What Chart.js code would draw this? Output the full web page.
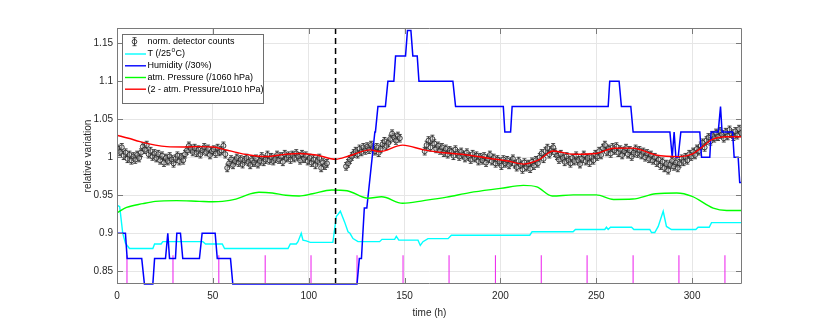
<!DOCTYPE html>
<html>
<head>
<meta charset="utf-8">
<script src="https://cdn.jsdelivr.net/npm/chart.js@4.4.0/dist/chart.umd.min.js"></script>
<style>
  html, body { margin: 0; padding: 0; background: #fff; }
  #chart { display: block; }
</style>
</head>
<body>
<canvas id="chart" width="830" height="325"></canvas>
<script>
// axis range
const yMin = 0.8333;
const yMax = 1.17;
const xMax = 326;

// normalised detector counts, hourly, three runs
const detStep = 1;
const detErr = 0.005;
const det1Start = 0.5;
const det1Values = [
  1.011, 1.007, 1.013, 1.002, 1.006, 0.998, 1.003, 0.996, 1.001, 0.997,
  1.003, 0.999, 1.006, 1.014, 1.010, 1.016, 1.004, 1.008, 1.001, 1.005,
  0.999, 1.004, 0.996, 1.002, 0.993, 0.999, 0.995, 1.001, 0.997, 0.992,
  0.998, 1.002, 0.995, 1.000, 0.996, 1.004, 1.009, 1.015, 1.011, 1.007,
  1.012, 1.006, 1.010, 1.004, 1.009, 1.013, 1.007, 1.011, 1.003, 1.008,
  1.010, 1.005, 1.012, 1.007, 1.009, 1.015, 1.004, 0.986, 0.992, 0.997,
  0.990, 0.995, 0.999, 0.993, 0.997, 0.991, 0.996, 0.999, 0.994, 0.990,
  0.996, 0.993, 0.998, 0.991, 0.995, 1.001, 0.994, 0.997, 1.003, 0.996,
  1.000, 0.995, 0.998, 1.003, 0.997, 1.001, 0.994, 1.004, 0.999, 1.002,
  0.997, 1.003, 0.999, 1.005, 1.001, 0.996, 1.004, 0.998, 1.002, 0.995,
  0.999, 0.993, 0.997, 0.990, 0.995, 0.999, 0.986, 0.993, 0.989, 0.992
];
const det2Start = 119.5;
const det2Values = [
  0.988, 0.992, 0.997, 1.001, 1.005, 1.008, 1.004, 1.011, 1.007, 1.013,
  1.009, 1.014, 1.010, 1.016, 1.012, 1.008, 1.013, 1.006, 1.011, 1.017,
  1.021, 1.015, 1.019, 1.024, 1.031, 1.026, 1.022, 1.028, 1.025
];
const det3Start = 160.5;
const det3Values = [
  1.008, 1.016, 1.022, 1.013, 1.024, 1.018, 1.011, 1.015, 1.009, 1.013,
  1.006, 1.011, 1.004, 1.009, 1.007, 1.002, 1.010, 1.005, 1.001, 1.007,
  1.003, 0.999, 1.006, 1.001, 0.997, 1.004, 0.999, 1.002, 0.995, 1.000,
  0.996, 1.001, 0.993, 0.998, 1.003, 0.995, 0.999, 0.992, 0.997, 0.994,
  0.989, 0.997, 0.992, 0.996, 0.990, 0.994, 0.998, 0.991, 0.987, 0.995,
  0.990, 0.984, 0.993, 0.987, 0.991, 0.985, 0.994, 0.989, 0.996, 0.992,
  1.000, 1.005, 0.998, 1.008, 1.012, 1.004, 1.009, 1.013, 1.006, 1.002,
  0.997, 1.004, 0.999, 0.994, 1.001, 0.996, 0.992, 0.999, 0.995, 1.002,
  0.996, 0.991, 0.998, 1.003, 0.995, 0.999, 0.993, 1.000, 0.996, 1.004,
  1.001, 1.008, 1.003, 1.012, 1.016, 1.007, 1.011, 1.005, 1.013, 1.009,
  1.014, 1.006, 1.010, 1.003, 1.008, 1.012, 1.004, 1.009, 1.001, 1.006,
  1.011, 1.005, 1.009, 1.003, 1.007, 1.000, 1.005, 0.998, 1.003, 0.996,
  1.000, 0.993, 0.997, 0.989, 0.994, 0.986, 0.991, 0.983, 0.990, 0.995,
  0.988, 0.993, 0.986, 0.992, 0.998, 0.994, 1.000, 0.996, 1.004, 1.001,
  1.007, 1.003, 1.011, 1.008, 1.015, 1.019, 1.013, 1.022, 1.026, 1.021,
  1.029, 1.025, 1.032, 1.027, 1.034, 1.030, 1.025, 1.033, 1.028, 1.036,
  1.031, 1.027, 1.034, 1.029, 1.037, 1.032
];

// temperature /25 degC
const tempTime = [0, 1.4, 3, 4.4, 6.5, 18.7, 19.6, 23, 23.9, 44.8, 46.2, 54.9, 56.1, 89.2, 90.4, 93.5, 94.4, 96.1, 97, 98.7, 100.8, 112.6, 114.4, 116.5, 118.7, 120.5, 121.5, 123.1, 125.7, 137, 138.2, 144.8, 145.7, 147, 157, 158.2, 159.6, 162.2, 172.7, 174.4, 215.3, 216.5, 237.9, 239.1, 254.4, 255.3, 256.2, 257.4, 268.4, 269.6, 277.9, 278.8, 280.5, 282.3, 284.9, 286.6, 289.2, 301.9, 303.1, 308.9, 310.1, 326];
const tempValue = [0.937, 0.935, 0.900, 0.887, 0.880, 0.880, 0.886, 0.886, 0.889, 0.889, 0.886, 0.886, 0.880, 0.880, 0.886, 0.886, 0.889, 0.900, 0.891, 0.890, 0.888, 0.888, 0.922, 0.929, 0.915, 0.902, 0.900, 0.893, 0.889, 0.889, 0.892, 0.892, 0.896, 0.891, 0.891, 0.884, 0.889, 0.893, 0.893, 0.8975, 0.8975, 0.902, 0.902, 0.905, 0.905, 0.908, 0.905, 0.908, 0.908, 0.905, 0.905, 0.901, 0.901, 0.909, 0.929, 0.909, 0.905, 0.905, 0.908, 0.908, 0.914, 0.914];

// humidity /30 %
const humTime = [0, 4.4, 5.3, 12.9, 14.3, 18.7, 19.6, 25.3, 26.5, 27.4, 30.5, 31.2, 33.1, 34.3, 43, 44.4, 51.2, 52.3, 59.2, 60.4, 125.2, 126.4, 127.5, 129, 130.3, 134.5, 134.8, 136.1, 140, 141.3, 144.4, 145.3, 150.5, 151.5, 153.3, 154.3, 156.6, 157.5, 175.2, 176.6, 201.5, 202.3, 205.3, 206.1, 256.2, 257, 261.9, 263.1, 268, 269.2, 288.4, 289.6, 290.6, 291.5, 292.7, 294.1, 304, 304.9, 309.2, 309.9, 313.6, 314.8, 315.6, 321.1, 321.9, 324, 324.8, 326];
const humValue = [0.9, 0.9, 0.8667, 0.8667, 0.8333, 0.8333, 0.8667, 0.8667, 0.9, 0.8667, 0.8667, 0.9, 0.9, 0.8667, 0.8667, 0.9, 0.9, 0.8667, 0.8667, 0.8333, 0.8333, 0.8667, 0.8667, 0.9333, 0.9333, 1.0333, 1.0333, 1.0667, 1.0667, 1.1, 1.1, 1.1333, 1.1333, 1.1667, 1.1667, 1.1333, 1.1333, 1.1, 1.1, 1.0667, 1.0667, 1.0333, 1.0333, 1.0667, 1.0667, 1.1, 1.1, 1.0667, 1.0667, 1.0333, 1.0333, 1.0, 1.0333, 1.0, 1.0, 1.0333, 1.0333, 1.0, 1.0, 1.0333, 1.0333, 1.0667, 1.0333, 1.0333, 1.0, 1.0, 0.9667, 0.9667];

// atm. pressure /1060 hPa
const presTime = [0, 5, 13.5, 20, 31, 43, 50, 55, 62, 69, 74, 81, 88, 95, 102, 112, 120, 131, 138, 149, 160, 172, 184, 200, 212, 219, 227, 238, 250, 259, 269, 281, 292, 300, 311, 318, 326];
const presValue = [0.927, 0.934, 0.939, 0.942, 0.943, 0.942, 0.9415, 0.942, 0.945, 0.9515, 0.954, 0.953, 0.950, 0.949, 0.952, 0.957, 0.956, 0.946, 0.948, 0.9395, 0.943, 0.9475, 0.9535, 0.959, 0.963, 0.961, 0.949, 0.9505, 0.9505, 0.9445, 0.945, 0.952, 0.953, 0.9485, 0.933, 0.930, 0.930];

// 2 - atm. pressure /1010 hPa
const invTime = [0, 6, 12, 20, 26, 35, 43, 50, 57, 63, 69, 78, 88, 95, 104, 114, 121, 132, 137, 149, 160, 170, 180, 194, 204, 212, 220, 227.5, 238, 250, 259, 269, 281, 293.5, 300, 305, 310, 318, 326];
const invValue = [1.029, 1.025, 1.0205, 1.016, 1.014, 1.0135, 1.014, 1.0135, 1.0096, 1.006, 1.003, 1.001, 1.004, 1.005, 1.003, 0.9974, 1.0017, 1.0097, 1.0075, 1.016, 1.0097, 1.006, 1.004, 0.9987, 0.995, 0.991, 0.9965, 1.0083, 1.0039, 1.005, 1.0118, 1.012, 1.003, 1.0008, 1.004, 1.013, 1.0228, 1.027, 1.027];

// daily markers and the dashed event line
const markTime = [5.2, 29.2, 53.1, 77.3, 101.2, 125.2, 149.2, 173.2, 197.4, 221.3, 245.2, 269.2, 293.1, 317.1];
const markTop = 0.871;
const eventTime = 114;

const fontFamily = "'Liberation Sans', Arial, Helvetica, sans-serif";
const textColor = '#262626';

function pairs(xs, ys) {
    return xs.map((t, i) => ({ x: t, y: ys[i] }));
}

function detPoints() {
    const pts = [];
    [[det1Start, det1Values], [det2Start, det2Values], [det3Start, det3Values]].forEach(([start, vals]) => {
        vals.forEach((v, i) => pts.push({ x: start + i * detStep, y: v }));
    });
    return pts;
}

function markPoints() {
    const pts = [];
    markTime.forEach((t) => {
        pts.push({ x: t, y: yMin }, { x: t, y: markTop }, { x: t, y: null });
    });
    return pts;
}

const errorBars = {
    id: 'errorBars',
    beforeDatasetDraw(chart, args) {
        if (args.index !== 0) return;
        const { ctx, chartArea: a, scales: { x, y } } = chart;
        ctx.save();
        ctx.beginPath();
        ctx.rect(a.left, a.top, a.width, a.height);
        ctx.clip();
        ctx.strokeStyle = '#1a1a1a';
        ctx.lineWidth = 0.8;
        ctx.beginPath();
        chart.data.datasets[0].data.forEach((p) => {
            const px = x.getPixelForValue(p.x);
            const y0 = y.getPixelForValue(p.y - detErr);
            const y1 = y.getPixelForValue(p.y + detErr);
            ctx.moveTo(px, y0); ctx.lineTo(px, y1);
            ctx.moveTo(px - 2, y0); ctx.lineTo(px + 2, y0);
            ctx.moveTo(px - 2, y1); ctx.lineTo(px + 2, y1);
        });
        ctx.stroke();
        ctx.restore();
    }
};

const axisBox = {
    id: 'axisBox',
    afterDraw(chart) {
        const { ctx, chartArea: a, scales: { x, y } } = chart;
        const tl = 6;
        ctx.save();
        ctx.strokeStyle = '#7a7a7a';
        ctx.lineWidth = 1;
        ctx.beginPath();
        ctx.rect(a.left + 0.5, a.top + 0.5, a.width - 1, a.height - 1);
        x.ticks.forEach((t) => {
            const px = Math.round(x.getPixelForValue(t.value)) + 0.5;
            ctx.moveTo(px, a.bottom); ctx.lineTo(px, a.bottom - tl);
            ctx.moveTo(px, a.top); ctx.lineTo(px, a.top + tl);
        });
        y.ticks.forEach((t) => {
            const py = Math.round(y.getPixelForValue(t.value)) + 0.5;
            ctx.moveTo(a.left, py); ctx.lineTo(a.left + tl, py);
            ctx.moveTo(a.right, py); ctx.lineTo(a.right - tl, py);
        });
        ctx.stroke();
        ctx.restore();
    }
};

const boxLegend = {
    id: 'boxLegend',
    afterDraw(chart) {
        const { ctx } = chart;
        const bx = 122.5, by = 34.5, bw = 141, bh = 69;
        const rows = [41.7, 54, 65.8, 77.5, 89.2];
        const lx0 = 125, lx1 = 146, tx = 147.5;
        ctx.save();
        ctx.fillStyle = '#fff';
        ctx.fillRect(bx, by, bw, bh);
        ctx.strokeStyle = '#6e6e6e';
        ctx.lineWidth = 1;
        ctx.strokeRect(bx, by, bw, bh);

        // error bar symbol
        const cx = 134.5, cy = rows[0];
        ctx.strokeStyle = '#1a1a1a';
        ctx.lineWidth = 0.8;
        ctx.beginPath();
        ctx.moveTo(cx, cy - 4); ctx.lineTo(cx, cy + 4);
        ctx.moveTo(cx - 2, cy - 4); ctx.lineTo(cx + 2, cy - 4);
        ctx.moveTo(cx - 2, cy + 4); ctx.lineTo(cx + 2, cy + 4);
        ctx.stroke();
        ctx.beginPath();
        ctx.arc(cx, cy, 2.3, 0, Math.PI * 2);
        ctx.stroke();

        const lines = [
            [rows[1], '#00ffff'],
            [rows[2], '#0000ff'],
            [rows[3], '#00ff00'],
            [rows[4], '#ff0000']
        ];
        ctx.lineWidth = 1.4;
        lines.forEach(([ry, col]) => {
            ctx.strokeStyle = col;
            ctx.beginPath();
            ctx.moveTo(lx0, ry); ctx.lineTo(lx1, ry);
            ctx.stroke();
        });

        ctx.fillStyle = '#000';
        ctx.textBaseline = 'middle';
        ctx.font = '9px ' + fontFamily;
        ctx.fillText('norm. detector counts', tx, rows[0]);
        // T label with superscript o
        let x = tx;
        ctx.fillText('T (/25', x, rows[1]);
        x += ctx.measureText('T (/25').width + 0.5;
        ctx.font = '6.5px ' + fontFamily;
        ctx.fillText('o', x, rows[1] - 3.5);
        x += ctx.measureText('o').width + 0.3;
        ctx.font = '9px ' + fontFamily;
        ctx.fillText('C)', x, rows[1]);
        ctx.fillText('Humidity (/30%)', tx, rows[2]);
        ctx.fillText('atm. Pressure (/1060 hPa)', tx, rows[3]);
        ctx.fillText('(2 - atm. Pressure/1010 hPa)', tx, rows[4]);
        ctx.restore();
    }
};

const ctx = document.getElementById('chart').getContext('2d');
new Chart(ctx, {
    type: 'scatter',
    data: {
        datasets: [
            {
                label: 'norm. detector counts',
                data: detPoints(),
                showLine: false,
                pointRadius: 2.5,
                pointBorderWidth: 0.9,
                pointBorderColor: '#2a2a2a',
                pointBackgroundColor: 'rgba(200,200,200,0.35)',
                order: 10
            },
            {
                label: 'marks',
                data: markPoints(),
                showLine: true,
                spanGaps: false,
                borderColor: '#ee30ee',
                borderWidth: 1.1,
                pointRadius: 0,
                order: 9
            },
            {
                label: 'T (/25°C)',
                data: pairs(tempTime, tempValue),
                showLine: true,
                borderColor: '#00ffff',
                borderWidth: 1.4,
                pointRadius: 0,
                order: 5
            },
            {
                label: 'Humidity (/30%)',
                data: pairs(humTime, humValue),
                showLine: true,
                clip: 3,
                borderColor: '#0000ff',
                borderWidth: 1.5,
                pointRadius: 0,
                order: 4
            },
            {
                label: 'atm. Pressure (/1060 hPa)',
                data: pairs(presTime, presValue),
                showLine: true,
                cubicInterpolationMode: 'monotone',
                borderColor: '#00ff00',
                borderWidth: 1.4,
                pointRadius: 0,
                order: 3
            },
            {
                label: '(2 - atm. Pressure/1010 hPa)',
                data: pairs(invTime, invValue),
                showLine: true,
                cubicInterpolationMode: 'monotone',
                borderColor: '#ff0000',
                borderWidth: 1.4,
                pointRadius: 0,
                order: 2
            },
            {
                label: 'event',
                data: [{ x: eventTime, y: yMin }, { x: eventTime, y: yMax }],
                showLine: true,
                borderColor: '#000',
                borderWidth: 1.5,
                borderDash: [6, 4],
                pointRadius: 0,
                order: 1
            }
        ]
    },
    options: {
        responsive: false,
        animation: false,
        events: [],
        layout: { padding: { left: 82, right: 88, top: 28, bottom: 0 } },
        plugins: {
            legend: { display: false },
            tooltip: { enabled: false }
        },
        scales: {
            x: {
                type: 'linear',
                min: 0,
                max: xMax,
                afterFit: (s) => { s.height = 41; },
                grid: { color: '#e6e6e6', drawTicks: false },
                border: { display: false },
                ticks: {
                    stepSize: 50,
                    includeBounds: false,
                    padding: 6,
                    color: textColor,
                    font: { family: fontFamily, size: 10 },
                    maxRotation: 0
                },
                title: {
                    display: true,
                    text: 'time (h)',
                    color: textColor,
                    font: { family: fontFamily, size: 10 },
                    padding: { top: 0, bottom: 6 }
                }
            },
            y: {
                min: yMin,
                max: yMax,
                afterFit: (s) => { s.width = 35; },
                grid: { color: '#e6e6e6', drawTicks: false },
                border: { display: false },
                ticks: {
                    stepSize: 0.05,
                    includeBounds: false,
                    padding: 4,
                    color: textColor,
                    font: { family: fontFamily, size: 10 },
                    callback: (v) => String(Number(v.toFixed(2)))
                },
                title: {
                    display: true,
                    text: 'relative variation',
                    color: textColor,
                    font: { family: fontFamily, size: 10 },
                    padding: { top: 0, bottom: 0 }
                }
            }
        }
    },
    plugins: [errorBars, axisBox, boxLegend]
});
</script>
</body>
</html>
